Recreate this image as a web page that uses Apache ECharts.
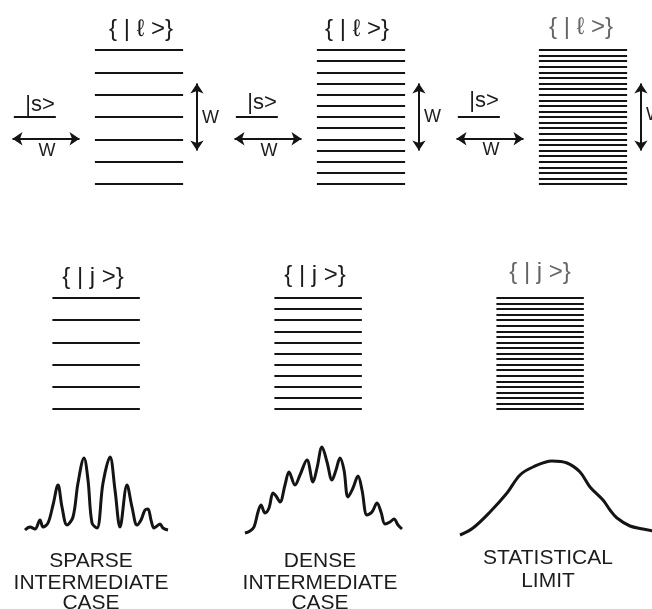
<!DOCTYPE html>
<html><head><meta charset="utf-8">
<script src="https://cdn.jsdelivr.net/npm/echarts@6/dist/echarts.min.js"></script>
<style>html,body{margin:0;padding:0;background:#fff}#c{width:652px;height:609px}</style>
</head><body><div id="c"></div>
<script>
// ---------- DATA ----------
// energies of the quasi-continuum levels {|l>} (top row), in units of the sparse spacing
const lSparse = [-3, -2, -1, 0, 1, 2, 3];
const lDense = [-3, -2.5, -2, -1.5, -1, -0.5, 0, 0.5, 1, 1.5, 2, 2.5, 3];
const lStat = [-3, -2.75, -2.5, -2.25, -2, -1.75, -1.5, -1.25, -1, -0.75, -0.5, -0.25, 0,
               0.25, 0.5, 0.75, 1, 1.25, 1.5, 1.75, 2, 2.25, 2.5, 2.75, 3];
// energies of the eigenstates {|j>} (middle row)
const jSparse = [-2.5, -1.5, -0.5, 0.5, 1.5, 2.5];
const jDense = [-2.5, -2, -1.5, -1, -0.5, 0, 0.5, 1, 1.5, 2, 2.5];
const jStat = [-2.5, -2.25, -2, -1.75, -1.5, -1.25, -1, -0.75, -0.5, -0.25, 0,
               0.25, 0.5, 0.75, 1, 1.25, 1.5, 1.75, 2, 2.25, 2.5];
const sEnergy = 0;     // |s> level
const widthW = 3;      // width W
// absorption spectra [position, intensity]
const specSparse = [[25,10],[30,13],[35,11],[40,20],[43,13],[48,17],[53,35],[58,55],[62,33],[67,15],
  [73,23],[78,57],[84,82],[88,60],[92,17],[97,12],[103,57],[110,83],[115,50],[120,13],[127,55],
  [132,33],[137,15],[141,20],[145,30],[148,31],[151,20],[154,12],[157,14],[160,16],[163,12],[168,10]];
const specDense = [[23,7],[28,9],[32,13],[36,28],[39,35],[43,27],[47,32],[51,47],[54,44],[58,38],
  [63,55],[67,68],[73,55],[78,65],[85,80],[91,58],[95,72],[100,93],[105,78],[110,60],[114,70],
  [118,82],[122,70],[126,43],[131,52],[136,64],[140,50],[145,25],[150,28],[155,37],[159,28],
  [163,16],[168,18],[172,21],[176,15],[180,11]];
const specStat = [[16,5],[29,12],[46,28],[63,47],[76,65],[89,73],[108,79],[123,77],[136,68],
  [146,53],[159,40],[166,30],[173,22],[186,14],[199,11],[209,9]];
const captions = [['SPARSE', 'INTERMEDIATE', 'CASE'], ['DENSE', 'INTERMEDIATE', 'CASE'], ['STATISTICAL', 'LIMIT']];
const lLabel = '{ | \u2113 >}';
const jLabel = '{ | j >}';
const sLabel = '|s>';
const wLabel = 'W';

// ---------- LAYOUT ----------
const PANEL = 222, GW = 208;
const INK = '#141414';
const chart = echarts.init(document.getElementById('c'), null, {renderer: 'canvas'});
const grids = [], xAxes = [], yAxes = [], series = [], graphic = [];
const topSets = [lSparse, lDense, lStat];
const botSets = [jSparse, jDense, jStat];
const specs = [specSparse, specDense, specStat];
const hideAx = {show: false};
function addGrid(g, xr, yr) {
  grids.push(Object.assign({containLabel: false}, g));
  const i = grids.length - 1;
  xAxes.push(Object.assign({type: 'value', gridIndex: i, min: xr[0], max: xr[1]}, hideAx));
  yAxes.push(Object.assign({type: 'value', gridIndex: i, min: yr[0], max: yr[1]}, hideAx));
  return i;
}
function txt(x, y, s, size, opts) {
  graphic.push({type: 'text', x: x, y: y, silent: true, style: Object.assign({
    text: s, font: size + 'px "Liberation Sans", Arial, sans-serif', fill: '#1c1c1c',
    textAlign: 'center', textVerticalAlign: 'middle'}, opts || {})});
}
const capY = [[561, 583, 603], [561, 583, 603], [558, 581]];
const capX = [91, 320, 548];
for (let k = 0; k < 3; k++) {
  const off = PANEL * k;
  // top row: 1 unit = 22.33 px
  const gt = addGrid({left: off, top: 27.7, width: GW, height: 178.7}, [0, GW / 22.33], [-4, 4]);
  series.push({type: 'lines', coordinateSystem: 'cartesian2d', xAxisIndex: gt, yAxisIndex: gt, silent: true,
    lineStyle: {color: INK, width: 2, opacity: 1},
    data: topSets[k].map(e => ({coords: [[4.25, e], [8.2, e]]})).concat([{coords: [[0.62, sEnergy], [2.5, sEnergy]]}])});
  series.push({type: 'lines', coordinateSystem: 'cartesian2d', xAxisIndex: gt, yAxisIndex: gt, silent: true,
    symbol: ['arrow', 'arrow'], symbolSize: 10,
    lineStyle: {color: INK, width: 2, opacity: 1},
    data: [{coords: [[0.56, sEnergy - 0.97], [0.56 + widthW, sEnergy - 0.97]]},
           {coords: [[8.82, sEnergy - widthW / 2], [8.82, sEnergy + widthW / 2]]}]});
  // bottom levels: 1 unit = 22.2 px
  const gb = addGrid({left: off, top: 264.7, width: GW, height: 177.6}, [0, GW / 22.2], [-4, 4]);
  series.push({type: 'lines', coordinateSystem: 'cartesian2d', xAxisIndex: gb, yAxisIndex: gb, silent: true,
    lineStyle: {color: INK, width: 2, opacity: 1},
    data: botSets[k].map(e => ({coords: [[2.36, e], [6.3, e]]}))});
  // spectra
  const gs = addGrid({left: off, top: 440, width: GW, height: 100}, [0, GW], [0, 100]);
  series.push({type: 'line', xAxisIndex: gs, yAxisIndex: gs, data: specs[k], smooth: 0.35,
    showSymbol: false, silent: true, clip: false, lineStyle: {color: INK, width: 3}});
  // texts
  const faint = k === 2 ? {fill: '#666'} : {};
  txt(off + [141, 135, 137][k], [29, 29, 27][k], lLabel, 24, faint);
  txt(off + 40, [105, 103, 101][k], sLabel, 22);
  txt(off + 47, [151, 151, 150][k], wLabel, 18);
  txt(off + 202, [118, 117, 115][k], wLabel, 18, {textAlign: 'left'});
  txt(off + [93, 93, 96][k], [277, 275, 272][k], jLabel, 24, faint);
  captions[k].forEach((c, i) => txt(capX[k], capY[k][i], c, 21));
}
chart.setOption({
  animation: false, backgroundColor: '#fff',
  grid: grids, xAxis: xAxes, yAxis: yAxes, series: series, graphic: graphic
});
</script></body></html>
